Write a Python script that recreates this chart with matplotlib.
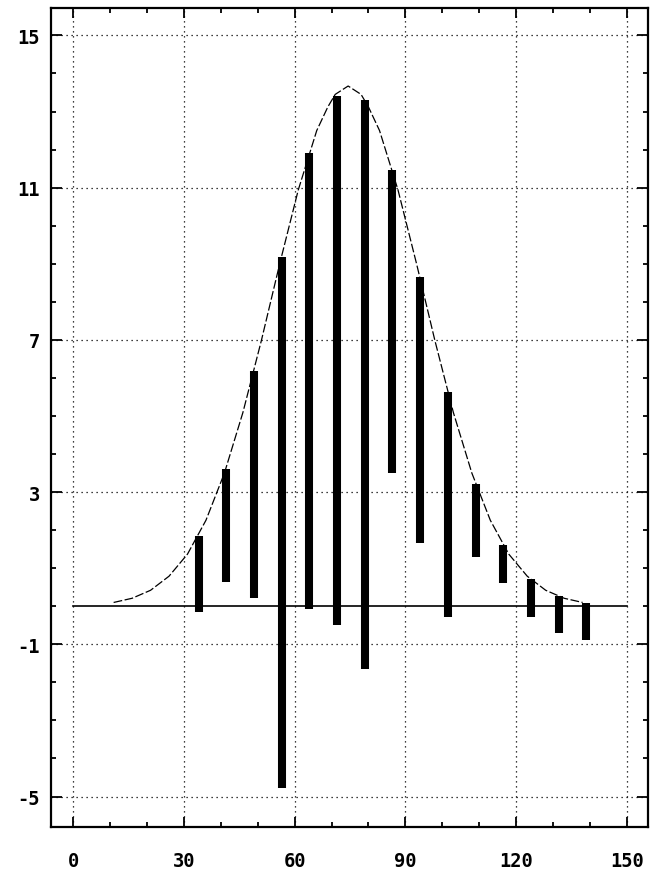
import numpy as np
from matplotlib import pyplot as plt
from matplotlib.ticker import MultipleLocator, FixedLocator

plt.rcParams['axes.unicode_minus'] = False

# bar positions and their low / high ends
bar_x = [34, 41.5, 49, 56.5, 64, 71.5, 79, 86.5, 94, 101.5, 109, 116.5, 124, 131.5, 139]
bar_low = [-0.16, 0.63, 0.21, -4.78, -0.08, -0.50, -1.66, 3.50, 1.66, -0.29, 1.29, 0.60, -0.29, -0.71, -0.89]
bar_high = [1.84, 3.60, 6.18, 9.17, 11.91, 13.40, 13.30, 11.46, 8.65, 5.62, 3.21, 1.60, 0.71, 0.26, 0.08]

# dashed curve
curve_x = [11, 16, 21, 26, 31, 36, 41, 46, 51, 56, 61, 66, 69, 71, 74.5, 78, 80, 83, 88, 93, 98, 103, 108, 113, 118, 123, 128, 133, 138]
curve_y = [0.10, 0.21, 0.42, 0.79, 1.37, 2.26, 3.50, 5.09, 6.98, 9.01, 10.94, 12.50, 13.12, 13.45, 13.67,
           13.45, 13.12, 12.50, 10.94, 9.01, 6.98, 5.09, 3.50, 2.26, 1.37, 0.79, 0.42, 0.21, 0.10]

x_ticks = [0, 30, 60, 90, 120, 150]
y_ticks = [-5, -1, 3, 7, 11, 15]


def visualize():
    fig = plt.figure(figsize=(6.66, 8.79), dpi=100)
    ax = fig.add_axes([51 / 666, 1 - 828 / 879, 597 / 666, 819 / 879])

    # zero line
    ax.plot([0, 150], [0, 0], color='black', lw=1.2)

    ax.plot(curve_x, curve_y, color='black', lw=0.9, linestyle=(0, (7, 2)))
    ax.vlines(bar_x, bar_low, bar_high, color='black', lw=5.8, capstyle='butt')

    ax.set_xlim(-5.96, 155.7)
    ax.set_ylim(-5.8, 15.72)

    ax.xaxis.set_major_locator(FixedLocator(x_ticks))
    ax.yaxis.set_major_locator(FixedLocator(y_ticks))
    ax.xaxis.set_minor_locator(MultipleLocator(10))
    ax.yaxis.set_minor_locator(MultipleLocator(1))

    ax.grid(True, which='major', color='black', linestyle=(0, (1, 3)), lw=0.9)

    ax.tick_params(which='both', direction='in', top=True, right=True, width=1.3, color='black')
    ax.tick_params(which='major', length=7, pad=17, labelsize=13.5)
    ax.tick_params(axis='y', which='major', length=8, pad=8)
    ax.tick_params(which='minor', length=3.5)

    for lab in ax.get_xticklabels() + ax.get_yticklabels():
        lab.set_family('DejaVu Sans Mono')
        lab.set_fontweight('bold')

    for sp in ax.spines.values():
        sp.set_linewidth(1.6)

    fig.savefig('out.png', dpi=100)


if __name__ == '__main__':
    visualize()
